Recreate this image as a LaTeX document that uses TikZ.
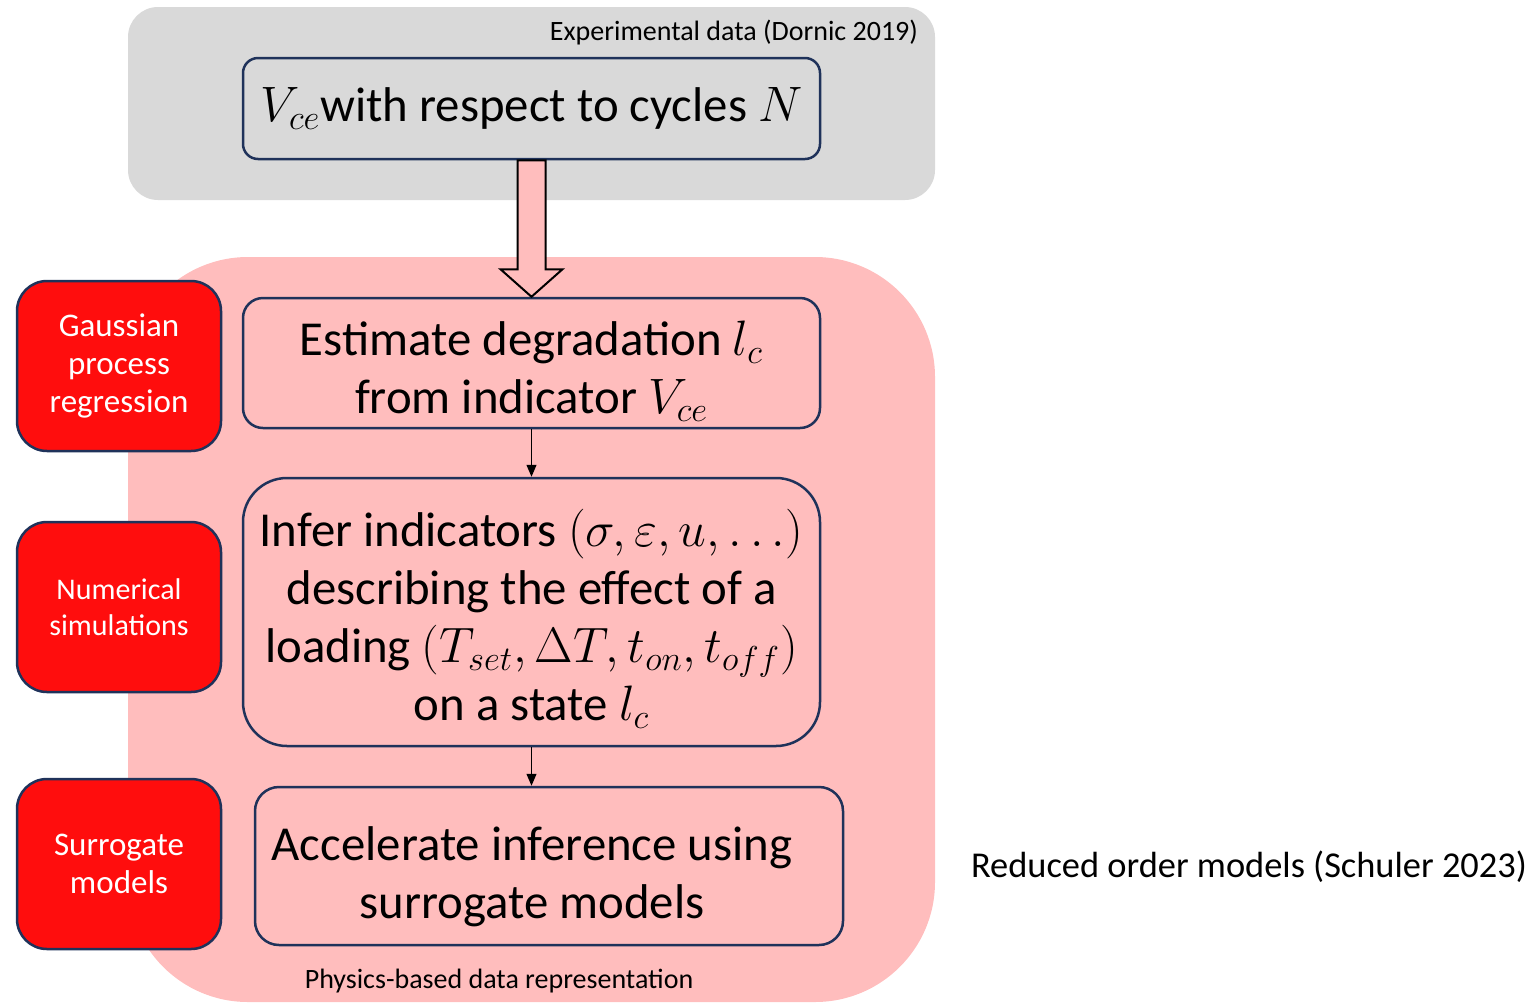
\documentclass[tikz,border=0pt]{standalone}
\usepackage{fontspec}
\setmainfont{Carlito}
\usetikzlibrary{positioning,calc,arrows.meta}

\definecolor{navyline}{RGB}{31,50,90}
\definecolor{greybg}{RGB}{217,217,217}
\definecolor{pinkbg}{RGB}{255,189,189}
\definecolor{redbox}{RGB}{255,13,13}

\newcommand\stepfont{\fontsize{24.4}{29}\selectfont}
\newcommand\methodfont{\fontsize{16.5}{19}\selectfont}

\tikzset{
  stepbox/.style={draw=navyline,line width=1.25pt,rounded corners=#1,
    align=center,inner sep=0pt,font=\stepfont},
  steptext/.style={align=center,inner sep=0pt,font=\stepfont},
  methodbox/.style={draw=navyline,fill=redbox,line width=1.25pt,rounded corners=15pt,
    align=center,inner sep=0pt,text=white,font=\methodfont,
    minimum width=102pt,minimum height=85pt},
  flowarrow/.style={-{Triangle[length=6pt,width=5pt]},line width=0.6pt}
}

\begin{document}
\begin{tikzpicture}[x=0.5pt,y=-0.5pt]
  \useasboundingbox (0,0) rectangle (1537,1002);
  % backgrounds
  \fill[greybg,rounded corners=15pt] (128,7) rectangle (935,200);
  \fill[pinkbg,rounded corners=60pt] (128,257) rectangle (935,1002);
  \node[anchor=east,font=\fontsize{14}{16}\selectfont] (expdata) at (925,33) {Experimental data (Dornic 2019)};
  \node[font=\fontsize{14}{16}\selectfont] (physdata) at (499,981) {Physics-based data representation};

  % steps
  \node[stepbox=7.5pt,minimum width=288.5pt,minimum height=50.5pt] (vce) at (531.5,108.5)
    {$V_{ce}$with respect to cycles $N$};
  \node[stepbox=10pt,minimum width=288.5pt,minimum height=65pt] (est) at (531.5,363) {};
  \node[steptext] (esttext) at (531.5,371) {Estimate degradation $l_c$\\from indicator $V_{ce}$};
  \node[stepbox=22pt,minimum width=288.5pt,minimum height=134pt] (infer) at (531.5,612) {};
  \node[steptext] (infertext) at (531.5,619)
    {Infer indicators $(\sigma,\varepsilon,u,\dots)$\\describing the effect of a\\loading $(T_{set},\Delta T,t_{on},t_{off})$\\on a state $l_c$};
  \node[stepbox=12pt,minimum width=294pt,minimum height=79pt] (accel) at (549,866) {};
  \node[steptext] (acceltext) at (532,877)
    {Accelerate inference using\\surrogate models};

  % methods
  \node[methodbox] (gpr) at (119,366) {Gaussian\\process\\regression};
  \node[methodbox,font=\fontsize{15}{18}\selectfont] (numsim) at (119,607) {Numerical\\simulations};
  \node[methodbox] (surr) at (119,864) {Surrogate\\models};

  \node[anchor=west,font=\fontsize{18.2}{22}\selectfont] (rom) at (964,867) {Reduced order models (Schuler 2023)};

  % arrows
  \draw[fill=pinkbg,line width=1pt]
    ($(vce.south)+(-14,0)$) -- ($(vce.south)+(14,0)$) -- ($(vce.south)+(14,109)$)
    -- ($(vce.south)+(31,109)$) -- (est.north) -- ($(vce.south)+(-31,109)$)
    -- ($(vce.south)+(-14,109)$) -- cycle;
  \draw[flowarrow] (est) -- (infer);
  \draw[flowarrow] (infer.south) -- (infer.south |- accel.north);
\end{tikzpicture}
\end{document}
